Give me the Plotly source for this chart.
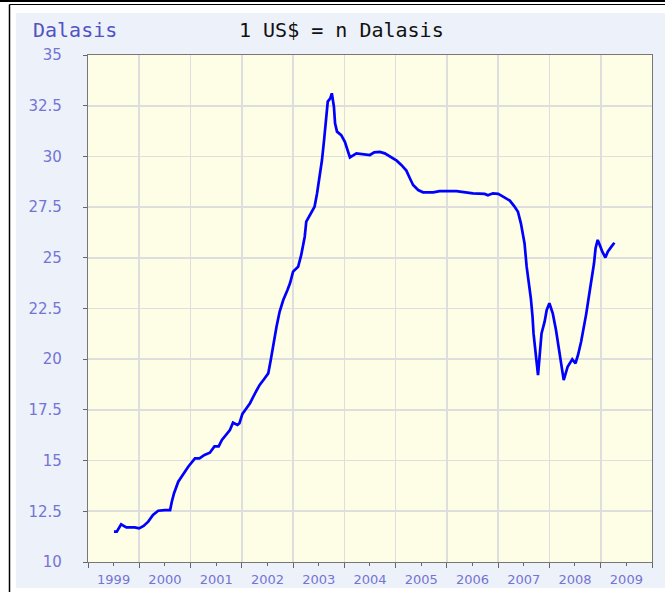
import plotly.graph_objects as go

dates = [
    "1999-07-05", "1999-07-25", "1999-08-25", "1999-10-01", "1999-11-30", "1999-12-31",
    "2000-02-01", "2000-03-05", "2000-04-08", "2000-05-15", "2000-07-01", "2000-08-08",
    "2000-08-20", "2000-09-05", "2000-10-05", "2000-11-10", "2000-12-15",
    "2001-02-01", "2001-03-05", "2001-04-10", "2001-05-18", "2001-06-20", "2001-07-20",
    "2001-08-12", "2001-09-12", "2001-10-08", "2001-10-30", "2001-12-01", "2001-12-15",
    "2002-01-05", "2002-02-03", "2002-02-28", "2002-04-05", "2002-05-08", "2002-06-13",
    "2002-07-08", "2002-07-26", "2002-08-10", "2002-09-05", "2002-09-27", "2002-10-23",
    "2002-11-22", "2002-12-10",
    "2003-01-01", "2003-02-06", "2003-02-28", "2003-03-25", "2003-04-05", "2003-05-01",
    "2003-06-03", "2003-06-21", "2003-07-08", "2003-07-26", "2003-08-10", "2003-08-25",
    "2003-09-05", "2003-09-23", "2003-10-04", "2003-10-19", "2003-10-27", "2003-11-10",
    "2003-12-10",
    "2004-01-05", "2004-01-23", "2004-02-10", "2004-03-27", "2004-05-15", "2004-07-01",
    "2004-08-01", "2004-09-10", "2004-10-15", "2004-11-20",
    "2005-01-08", "2005-02-10", "2005-03-18", "2005-04-12", "2005-05-05", "2005-06-10",
    "2005-07-15", "2005-09-25", "2005-11-10",
    "2006-03-10", "2006-04-28", "2006-07-05", "2006-09-27", "2006-10-20", "2006-11-25",
    "2007-01-01", "2007-02-05", "2007-03-25", "2007-04-25", "2007-05-22", "2007-06-12",
    "2007-07-08", "2007-07-23", "2007-08-08", "2007-08-22", "2007-09-03", "2007-09-10",
    "2007-09-24", "2007-10-05", "2007-10-12", "2007-10-23", "2007-11-06", "2007-11-28",
    "2007-12-13",
    "2008-01-01", "2008-01-25", "2008-02-17", "2008-03-07", "2008-03-25", "2008-04-12",
    "2008-05-10", "2008-06-12", "2008-07-05", "2008-07-23", "2008-08-14", "2008-09-02",
    "2008-09-20", "2008-10-08", "2008-10-27", "2008-11-14", "2008-11-25", "2008-12-10",
    "2008-12-25",
    "2009-01-12", "2009-02-03", "2009-02-20", "2009-03-18", "2009-04-08",
]

dalasis = [
    11.50, 11.50, 11.86, 11.71, 11.71, 11.66,
    11.78, 11.99, 12.32, 12.53, 12.56, 12.56,
    12.97, 13.39, 13.96, 14.37, 14.70,
    15.11, 15.11, 15.28, 15.39, 15.70, 15.70,
    16.02, 16.31, 16.51, 16.87, 16.76, 16.84,
    17.30, 17.58, 17.83, 18.32, 18.73, 19.06,
    19.30, 19.96, 20.62, 21.60, 22.34, 22.92,
    23.41, 23.74,
    24.32, 24.56, 25.14, 26.04, 26.78, 27.11,
    27.52, 28.18, 28.92, 29.82, 30.81, 31.79,
    32.70, 32.86, 33.11, 32.45, 31.63, 31.22,
    31.05,
    30.72, 30.31, 29.95, 30.15, 30.12, 30.07,
    30.20, 30.22, 30.15, 29.99,
    29.79, 29.58, 29.30, 28.92, 28.59, 28.34,
    28.23, 28.23, 28.29,
    28.29, 28.23, 28.18, 28.15, 28.08, 28.18,
    28.15, 28.02, 27.82, 27.55, 27.27, 26.70,
    25.71, 24.56, 23.74, 23.00, 22.09, 21.27,
    20.37, 19.63, 19.22, 20.12, 21.27, 21.85,
    22.43,
    22.76, 22.26, 21.44, 20.62, 19.63, 18.97,
    19.63, 19.99, 19.80, 20.21, 20.86, 21.52,
    22.26, 23.08, 23.82, 24.73, 25.47, 25.88,
    25.63,
    25.30, 25.01, 25.30, 25.55, 25.74,
]

y_ticks = [10, 12.5, 15, 17.5, 20, 22.5, 25, 27.5, 30, 32.5, 35]
y_tick_labels = ["10", "12.5", "15", "17.5", "20", "22.5", "25", "27.5", "30", "32.5", "35"]

title_left = "Dalasis"
title_main = "1 US$ = n Dalasis"

W, H = 665, 592
L, R, T, B = 88, 13, 55, 30
PW, PH = W - L - R, H - T - B


def px(x):
    return (x - L) / PW


def py(y):
    return (H - B - y) / PH


fig = go.Figure()
fig.add_trace(go.Scatter(
    x=dates, y=dalasis, mode="lines",
    line=dict(color="#0000FF", width=2.7),
    hoverinfo="skip", showlegend=False,
))

tick_font = dict(family="DejaVu Sans, Verdana, sans-serif", color="#7474D4")

fig.update_layout(
    width=W, height=H,
    autosize=False,
    margin=dict(l=L, r=R, t=T, b=B, pad=0, autoexpand=False),
    paper_bgcolor="#EDF1FA",
    plot_bgcolor="#FEFDE6",
    showlegend=False,
    xaxis=dict(
        type="date",
        range=["1999-01-01", "2010-01-01"],
        dtick="M12", tick0="1999-01-01",
        tickformat="%Y", ticklabelmode="period",
        showgrid=True, gridcolor="#DEDEDE", gridwidth=1.6,
        showline=True, linecolor="#777777", linewidth=1.2, mirror=True,
        ticks="outside", ticklen=5, tickcolor="#666666", tickwidth=1,
        minor=dict(dtick="M6", tick0="1999-01-01", ticks="outside", ticklen=3,
                   tickcolor="#666666", showgrid=False),
        tickfont=dict(size=13, **tick_font),
        zeroline=False, fixedrange=True, automargin=False,
    ),
    yaxis=dict(
        range=[10, 35],
        tickmode="array", tickvals=y_ticks, ticktext=y_tick_labels,
        showgrid=True, gridcolor="#DEDEDE", gridwidth=1.6,
        showline=True, linecolor="#777777", linewidth=1.2, mirror=True,
        ticks="outside", ticklen=4, tickcolor="#666666", tickwidth=1,
        ticklabelstandoff=18,
        tickfont=dict(size=15, **tick_font),
        zeroline=False, fixedrange=True, automargin=False,
    ),
    annotations=[
        dict(text=title_left, xref="paper", yref="paper",
             x=px(31), y=py(30), xanchor="left", yanchor="middle",
             showarrow=False,
             font=dict(family="DejaVu Sans Mono, monospace", size=20, color="#5252C4")),
        dict(text=title_main, xref="paper", yref="paper",
             x=px(237), y=py(30), xanchor="left", yanchor="middle",
             showarrow=False,
             font=dict(family="DejaVu Sans Mono, monospace", size=20, color="#111111")),
    ],
    shapes=[
        dict(type="rect", xref="paper", yref="paper", x0=px(0), x1=px(16), y0=py(H), y1=py(0),
             fillcolor="white", line=dict(width=0), layer="above"),
        dict(type="rect", xref="paper", yref="paper", x0=px(0), x1=px(W), y0=py(13), y1=py(0),
             fillcolor="white", line=dict(width=0), layer="above"),
        dict(type="rect", xref="paper", yref="paper", x0=px(0), x1=px(W), y0=py(H), y1=py(588),
             fillcolor="white", line=dict(width=0), layer="above"),
        dict(type="line", xref="paper", yref="paper", x0=px(0), x1=px(W), y0=py(1), y1=py(1),
             line=dict(color="black", width=2), layer="above"),
        dict(type="line", xref="paper", yref="paper", x0=px(9.5), x1=px(W), y0=py(4.5), y1=py(4.5),
             line=dict(color="black", width=1.2), layer="above"),
        dict(type="line", xref="paper", yref="paper", x0=px(9.5), x1=px(9.5), y0=py(4.5), y1=py(H),
             line=dict(color="black", width=1.5), layer="above"),
    ],
)

fig.write_html(
    "out.html",
    config={"displayModeBar": False, "staticPlot": True},
    post_script="document.body.style.margin='0';document.body.style.overflow='hidden';",
)
